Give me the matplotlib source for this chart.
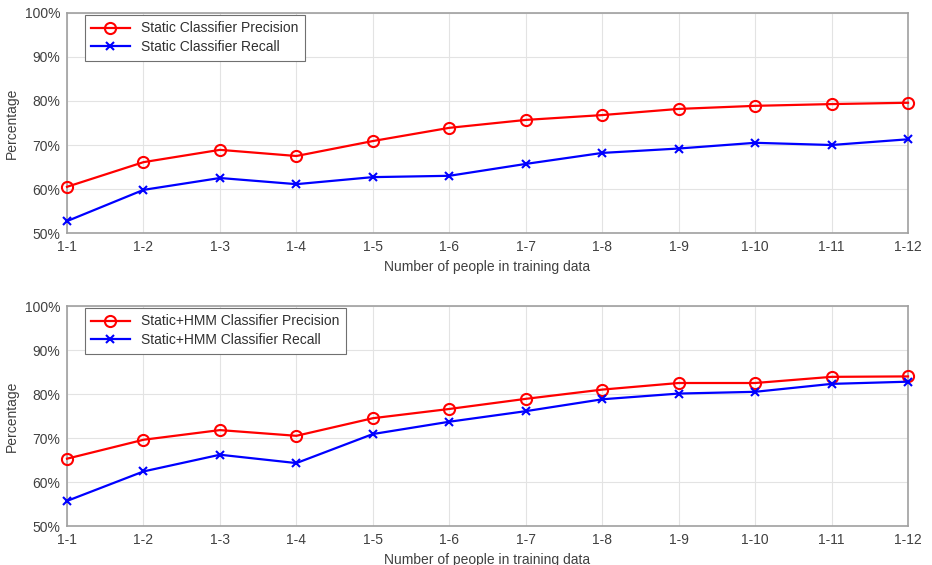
import numpy as np
import matplotlib
matplotlib.use("Agg")
import matplotlib.pyplot as plt
from matplotlib.ticker import FuncFormatter

plt.rcParams['font.family'] = ['Liberation Sans', 'DejaVu Sans']

groups = ["1-1", "1-2", "1-3", "1-4", "1-5", "1-6", "1-7", "1-8", "1-9", "1-10", "1-11", "1-12"]

static_precision = [60.5, 66.1, 68.9, 67.5, 70.9, 73.9, 75.7, 76.8, 78.2, 78.9, 79.3, 79.6]
static_recall = [52.7, 59.8, 62.5, 61.1, 62.7, 63.0, 65.7, 68.2, 69.2, 70.5, 70.0, 71.3]

hmm_precision = [65.3, 69.6, 71.8, 70.5, 74.5, 76.6, 78.9, 81.0, 82.5, 82.5, 83.9, 84.0]
hmm_recall = [55.7, 62.4, 66.2, 64.3, 70.9, 73.7, 76.1, 78.8, 80.1, 80.5, 82.3, 82.8]

fig = plt.figure(figsize=(9.32, 5.65), dpi=100)
ax1 = fig.add_axes([0.0719, 0.5876, 0.9024, 0.3894])
ax2 = fig.add_axes([0.0719, 0.069, 0.9024, 0.3894])

x = np.arange(len(groups))
text_col = '#404040'


def draw(ax, prec, rec, name):
    ax.plot(x, prec, color='red', lw=1.6, marker='o', ms=8, mfc='none', mew=1.5,
            clip_on=False, zorder=3, label=name + ' Classifier Precision')
    ax.plot(x, rec, color='blue', lw=1.6, marker='x', ms=6, mew=1.5,
            clip_on=False, zorder=3, label=name + ' Classifier Recall')
    ax.set_xlim(0, len(groups) - 1)
    ax.set_ylim(50, 100)
    ax.set_xticks(x)
    ax.set_xticklabels(groups)
    ax.set_yticks(np.arange(50, 101, 10))
    ax.yaxis.set_major_formatter(FuncFormatter(lambda v, p: '%d%%' % v))
    ax.grid(True, color='#e3e3e3', lw=0.8)
    ax.set_axisbelow(True)
    ax.tick_params(length=0, labelsize=10, labelcolor=text_col, pad=5)
    for s in ax.spines.values():
        s.set_color('#a0a0a0')
        s.set_linewidth(1.2)
    ax.set_ylabel('Percentage', fontsize=10, color=text_col, labelpad=4)
    ax.set_xlabel('Number of people in training data', fontsize=10, color=text_col, labelpad=4)
    leg = ax.legend(loc='upper left', bbox_to_anchor=(0.021, 0.99), borderaxespad=0,
                    fontsize=10, fancybox=False, framealpha=1, edgecolor='#707070',
                    handlelength=2.8, borderpad=0.45, labelspacing=0.35)
    leg.get_frame().set_linewidth(0.8)
    leg.set_zorder(5)
    for t in leg.get_texts():
        t.set_color('#303030')


draw(ax1, static_precision, static_recall, 'Static')
draw(ax2, hmm_precision, hmm_recall, 'Static+HMM')

fig.savefig('out.png', dpi=100)
